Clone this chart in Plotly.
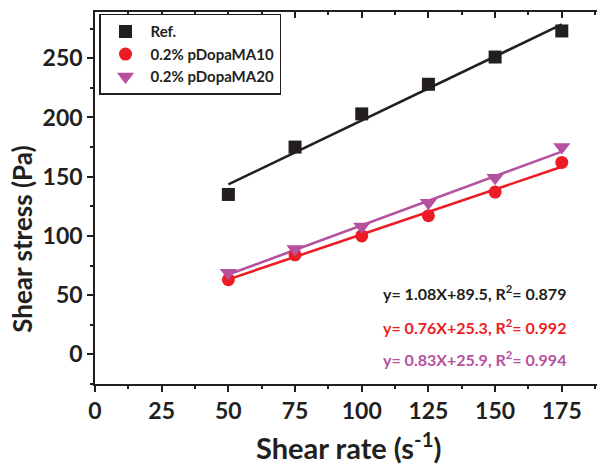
import numpy as np
import plotly.graph_objects as go

shear_rate = [50, 75, 100, 125, 150, 175]
ref_stress = [135, 175, 203, 228, 251, 273]
ma10_stress = [63, 84, 100, 117, 137, 162]
ma20_stress = [69, 89, 108, 128, 149, 175]

series_names = ["Ref.", "0.2% pDopaMA10", "0.2% pDopaMA20"]
slopes = [1.08, 0.76, 0.83]
intercepts = [89.5, 25.3, 25.9]
r2_values = ["0.879", "0.992", "0.994"]

x_ticks = [0, 25, 50, 75, 100, 125, 150, 175]
y_ticks = [0, 50, 100, 150, 200, 250]

colors = ["#231f20", "#ed1c24", "#b5519e"]
symbols = ["square", "circle", "triangle-down"]
msizes = [13, 13, 15]
FONT = "Lato, 'Open Sans', sans-serif"
AX = "#231f20"

fig = go.Figure()
ys = [ref_stress, ma10_stress, ma20_stress]
xf = np.array([shear_rate[0], shear_rate[-1]], dtype=float)
for i in range(3):
    fig.add_trace(go.Scatter(x=xf, y=slopes[i] * xf + intercepts[i], mode="lines",
                             line=dict(color=colors[i], width=2.6), showlegend=False,
                             hoverinfo="skip"))
for i in range(3):
    fig.add_trace(go.Scatter(x=shear_rate, y=ys[i], mode="markers", name=series_names[i],
                             marker=dict(symbol=symbols[i], size=msizes[i], color=colors[i],
                                         line=dict(width=0))))

# invisible trace to activate top axis
fig.add_trace(go.Scatter(x=[0], y=[0], xaxis="x2", mode="markers",
                         marker=dict(opacity=0), showlegend=False, hoverinfo="skip"))

fig.update_layout(
    width=597, height=465,
    margin=dict(l=95, r=0, t=12, b=81),
    plot_bgcolor="white", paper_bgcolor="white",
    showlegend=True,
    legend=dict(x=0.008, y=0.995, xanchor="left", yanchor="top",
                bordercolor=AX, borderwidth=1.5, bgcolor="white",
                font=dict(family=FONT, size=15, color=AX, weight="bold"),
                tracegroupgap=0, itemwidth=40),
    xaxis=dict(range=[0, 188.2], tickvals=x_ticks, ticks="outside", ticklen=6, tickwidth=1.5,
               tickcolor=AX, showline=True, linecolor=AX, linewidth=1.5, showgrid=False,
               zeroline=False, automargin=False, ticklabelstandoff=0,
               tickfont=dict(family=FONT, size=23, color=AX, weight="bold"),
               minor=dict(dtick=12.5, tick0=0, ticks="outside", ticklen=3.5, tickwidth=1.5,
                          tickcolor=AX, showgrid=False)),
    xaxis2=dict(range=[0, 188.2], overlaying="x", side="top", tickvals=x_ticks, ticks="inside",
                ticklen=6, tickwidth=1.5, tickcolor=AX, showline=True, linecolor=AX,
                linewidth=1.5, showgrid=False, zeroline=False, showticklabels=False,
                automargin=False,
                minor=dict(dtick=12.5, tick0=0, ticks="inside", ticklen=3.5, tickwidth=1.5,
                           tickcolor=AX, showgrid=False)),
    yaxis=dict(range=[-25, 289], tickvals=y_ticks, ticks="outside", ticklen=6, tickwidth=1.5,
               tickcolor=AX, showline=True, linecolor=AX, linewidth=1.5, showgrid=False,
               zeroline=False, automargin=False,
               tickfont=dict(family=FONT, size=23, color=AX, weight="bold"),
               minor=dict(dtick=25, tick0=0, ticks="outside", ticklen=3.5, tickwidth=1.5,
                          tickcolor=AX, showgrid=False)),
)

# axis titles
fig.add_annotation(text="Shear rate (s<sup>-1</sup>)", xref="paper", yref="paper",
                   x=(348 - 95) / 502, y=-(446 - 384.3) / 372.3, showarrow=False,
                   yanchor="middle", font=dict(family=FONT, size=29, color=AX, weight="bold"))
fig.add_annotation(text="Shear stress (Pa)", xref="paper", yref="paper",
                   x=-(95 - 22) / 502, y=(384.3 - 240) / 372.3, textangle=-90, showarrow=False,
                   xanchor="center", yanchor="middle",
                   font=dict(family=FONT, size=26, color=AX, weight="bold"))

eq_y = [293, 327, 359]
for i in range(3):
    txt = f"y= {slopes[i]:.2f}X+{intercepts[i]:.1f}, R<sup>2</sup>= {r2_values[i]}"
    fig.add_annotation(text=txt, xref="paper", yref="paper", x=(568 - 95) / 502,
                       y=(384.3 - eq_y[i]) / 372.3, xanchor="right", yanchor="middle",
                       showarrow=False,
                       font=dict(family=FONT, size=16, color=colors[i], weight="bold"))

fig.write_html("out.html", config={"displayModeBar": False},
               post_script="document.body.style.margin='0px';document.body.style.overflow='hidden';")
